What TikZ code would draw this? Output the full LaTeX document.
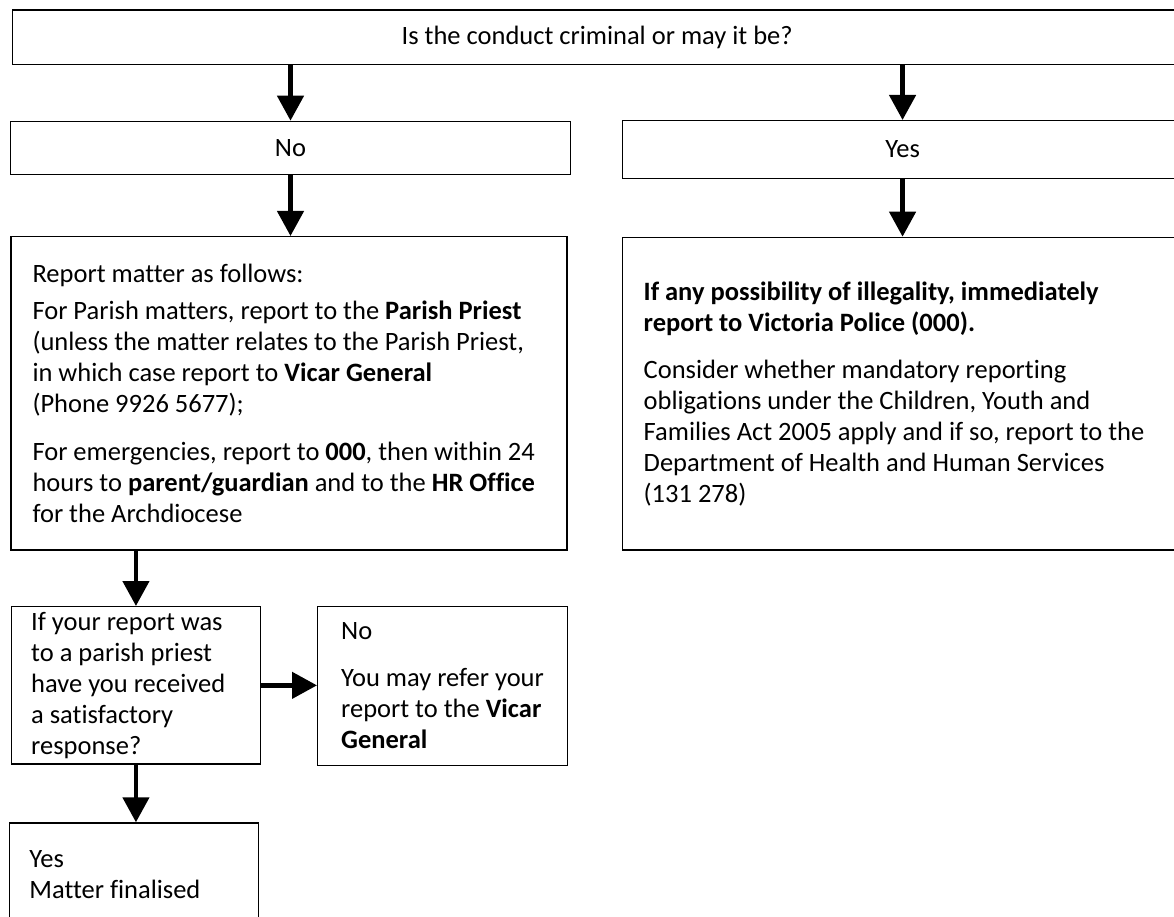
\documentclass[tikz,border=0pt]{standalone}
\usepackage{fontspec}
\setmainfont{Carlito}[Ligatures=NoCommon]
\usepackage{tikz}
\usetikzlibrary{shapes,arrows.meta,positioning}

\begin{document}
\begin{tikzpicture}[
    x=1pt, y=-1pt,
    font=\fontsize{26.5}{31}\selectfont,
    box/.style={rectangle, draw, line width=1.4pt, inner sep=0pt, anchor=north west},
    txtbox/.style={box, align=flush left, inner xsep=20pt},
    arrow/.style={-{Triangle[width=26pt,length=25pt]}, line width=4.5pt}
]
    \useasboundingbox (0,0) rectangle (1174,917);

    % Question at the top
    \node[box, minimum width=1170pt, minimum height=54.7pt] (crim) at (11.5,9.3) {Is the conduct criminal or may it be?};

    % Answers
    \node[box, minimum width=560.4pt, minimum height=53.3pt] (no) at (9.6,120.7) {No};
    \node[box, minimum width=560.3pt, minimum height=57.7pt] (yes) at (621.7,120) {Yes};

    % Reporting steps
    \node[txtbox, inner xsep=21.6pt, text width=513pt, minimum height=313.3pt] (report) at (10.2,236) {
        Report matter as follows:\\[6pt]
        For Parish matters, report to the \textbf{Parish Priest}\\
        (unless the matter relates to the Parish Priest,\\
        in which case report to \textbf{Vicar General}\\
        (Phone 9926 5677);\\[17pt]
        For emergencies, report to \textbf{000}, then within 24\\
        hours to \textbf{parent/guardian} and to the \textbf{HR Office}\\
        for the Archdiocese
    };
    \node[txtbox, inner xsep=21pt, text width=518pt, minimum height=312.6pt] (police) at (622,236.7) {
        \textbf{If any possibility of illegality, immediately}\\
        \textbf{report to Victoria Police (000).}\\[16pt]
        Consider whether mandatory reporting\\
        obligations under the Children, Youth and\\
        Families Act 2005 apply and if so, report to the\\
        Department of Health and Human Services\\
        (131 278)
    };

    % Follow-up
    \node[txtbox, text width=209.5pt, minimum height=157.3pt] (satisfied) at (10.5,606) {
        If your report was\\
        to a parish priest\\
        have you received\\
        a satisfactory\\
        response?
    };
    \node[txtbox, minimum width=249.6pt, minimum height=158.7pt] (refer) at (317,606) {
        No\\[16pt]
        You may refer your\\
        report to the \textbf{Vicar}\\
        \textbf{General}
    };
    \node[txtbox, text width=209pt, minimum height=103.4pt] (finalised) at (8.7,822.3) {
        Yes\\
        Matter finalised
    };

    % Arrows
    \draw[arrow] (no.north |- crim.south) -- (no.north);
    \draw[arrow] (yes.north |- crim.south) -- (yes.north);
    \draw[arrow] (no.south) -- (no.south |- report.north);
    \draw[arrow] (yes.south) -- (yes.south |- police.north);
    \draw[arrow] (satisfied.north |- report.south) -- (satisfied.north);
    \draw[arrow] (satisfied.east) -- (refer.west |- satisfied.east);
    \draw[arrow] (satisfied.south) -- (satisfied.south |- finalised.north);

\end{tikzpicture}
\end{document}
